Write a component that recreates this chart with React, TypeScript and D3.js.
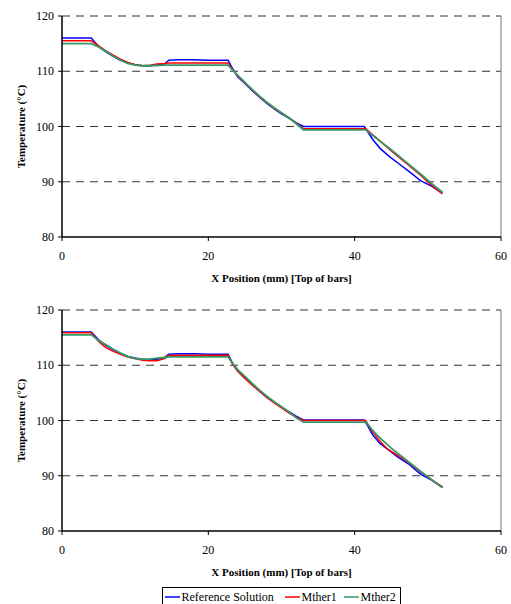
import React from "react";
import * as d3 from "d3";

type P = [number, number];

const xTicks = [0, 20, 40, 60];
const yTicks = [80, 90, 100, 110, 120];
const seriesNames = ["Reference Solution", "Mther1", "Mther2"];
const seriesColors = ["#0000FF", "#FF0000", "#339966"];

const topRef: P[] = [[0,116],[4,116],[5,114.5],[6,113.5],[7,112.7],[8,112],[9,111.5],[10,111.2],[11,111],[12,111],[13,111.2],[14,111.3],[14.6,112],[16,112.1],[18,112.1],[20,112],[22.7,112],[23.3,110.5],[24,109],[25,107.8],[26,106.5],[27,105.3],[28,104.2],[29,103.2],[30,102.3],[31,101.5],[32,100.7],[33,100],[35,100],[38,100],[41.3,100],[41.8,99],[42.5,97.6],[43.5,96],[44.8,94.5],[46,93.3],[47.5,91.8],[49,90.2],[50.5,89.2],[52,87.9]];
const topM1: P[] = [[0,115.5],[4,115.5],[5,114.6],[6,113.7],[7,112.9],[8,112.2],[9,111.6],[10,111.2],[11,111],[12,111.1],[13,111.3],[14,111.4],[14.6,111.5],[22.7,111.5],[23.3,110.3],[24,109.2],[25,107.9],[26,106.6],[27,105.4],[28,104.3],[29,103.3],[30,102.4],[31,101.6],[32,100.6],[33,99.6],[41.5,99.6],[43,97.9],[45,95.6],[47,93.4],[49,91.2],[50.5,89.4],[52,87.8]];
const topM2: P[] = [[0,115],[4,115],[5,114.4],[6,113.6],[7,112.7],[8,112],[9,111.4],[10,111.1],[11,111],[12,111],[14,111.1],[22.7,111.1],[23.3,110.2],[24,109.3],[25,108],[26,106.7],[27,105.5],[28,104.4],[29,103.4],[30,102.5],[31,101.6],[32,100.5],[33,99.4],[41.5,99.4],[43,97.8],[45,95.8],[47,93.6],[49,91.4],[50.5,89.7],[52,88.1]];

const botRef: P[] = [[0,116],[4,116],[5,114.6],[6,113.6],[7,112.8],[8,112.1],[9,111.6],[10,111.3],[11,111.1],[12,111],[13,111.1],[14,111.4],[14.6,112],[16,112.1],[18,112.1],[20,112],[22.7,112],[23.3,110.4],[24,109.1],[25,107.8],[26,106.5],[27,105.3],[28,104.2],[29,103.3],[30,102.4],[31,101.6],[32,100.8],[33,100.1],[41.3,100.1],[41.8,99],[42.5,97.3],[43.5,95.8],[44.8,94.5],[46,93.3],[47.5,92],[49,90.3],[50.5,89.2],[52,87.9]];
const botM1: P[] = [[0,115.9],[4,115.9],[5,114.3],[6,113.2],[7,112.5],[8,112],[9,111.5],[10,111.2],[11,110.9],[12,110.8],[13,110.8],[14,111.2],[14.6,111.8],[22.7,111.8],[23.3,110.2],[24,108.9],[25,107.6],[26,106.4],[27,105.3],[28,104.2],[29,103.2],[30,102.3],[31,101.4],[32,100.6],[33,100],[41.5,100],[42.5,97.8],[43.5,96.2],[44.5,94.8],[46,93.6],[47.5,92.3],[49,90.7],[50.5,89.3],[52,88]];
const botM2: P[] = [[0,115.5],[4,115.5],[5,114.5],[6,113.7],[7,112.9],[8,112.2],[9,111.6],[10,111.2],[11,111.1],[12,111.1],[13,111.3],[14,111.4],[14.6,111.5],[22.7,111.5],[23.3,110.4],[24,109.2],[25,108],[26,106.7],[27,105.5],[28,104.4],[29,103.4],[30,102.5],[31,101.6],[32,100.5],[33,99.7],[41.5,99.7],[43,97.4],[45,95],[47,92.9],[49,90.8],[50.5,89.3],[52,87.8]];

const FONT = "Liberation Serif, DejaVu Serif, serif";
const LEFT = 62;
const RIGHT = 501;
const PH = 221;

function Panel({ top, series }: { top: number; series: P[][] }) {
  const x = d3.scaleLinear().domain([0, 60]).range([LEFT, RIGHT]);
  const y = d3.scaleLinear().domain([80, 120]).range([top + PH, top]);
  const line = d3.line<P>().x((d) => x(d[0])).y((d) => y(d[1]));
  const bottom = top + PH;
  return (
    <g>
      {yTicks.filter((t) => t > 80).map((t) => (
        <line key={"g" + t} x1={LEFT} x2={RIGHT} y1={y(t)} y2={y(t)} stroke="#333" strokeWidth={1} strokeDasharray="8,6" />
      ))}
      <line x1={RIGHT} x2={RIGHT} y1={top} y2={bottom} stroke="#777" strokeWidth={1} />
      {series.map((s, i) => (
        <path key={i} d={line(s) || ""} fill="none" stroke={seriesColors[i]} strokeWidth={i === 2 ? 1.8 : 1.5} />
      ))}
      <line x1={LEFT} x2={LEFT} y1={top} y2={bottom} stroke="#000" strokeWidth={1.5} />
      <line x1={LEFT} x2={RIGHT} y1={bottom} y2={bottom} stroke="#000" strokeWidth={1.5} />
      {yTicks.map((t) => (
        <g key={"y" + t}>
          <line x1={LEFT - 4} x2={LEFT} y1={y(t)} y2={y(t)} stroke="#000" strokeWidth={1} />
          <text x={LEFT - 8} y={y(t) + 4} textAnchor="end" fontSize={12} style={{ fontFamily: FONT }}>{t}</text>
        </g>
      ))}
      {xTicks.map((t) => (
        <g key={"x" + t}>
          <line x1={x(t)} x2={x(t)} y1={bottom} y2={bottom + 4} stroke="#000" strokeWidth={1} />
          <text x={x(t)} y={bottom + 23} textAnchor="middle" fontSize={12} style={{ fontFamily: FONT }}>{t}</text>
        </g>
      ))}
      <text x={(LEFT + RIGHT) / 2} y={bottom + 45} textAnchor="middle" fontSize={11} fontWeight="bold" style={{ fontFamily: FONT }}>X Position (mm) [Top of bars]</text>
      <text transform={`translate(25,${(top + bottom) / 2}) rotate(-90)`} textAnchor="middle" fontSize={11} fontWeight="bold" style={{ fontFamily: FONT }}>Temperature (°C)</text>
    </g>
  );
}

export default function App() {
  const legendX = [165, 285, 344];
  return (
    <svg width={511} height={604} style={{ position: "absolute", left: 0, top: 0, background: "#fff" }}>
      <Panel top={16} series={[topRef, topM1, topM2]} />
      <Panel top={310} series={[botRef, botM1, botM2]} />
      <rect x={162.5} y={587.5} width={238} height={24} fill="#fff" stroke="#000" strokeWidth={1} />
      {seriesNames.map((n, i) => (
        <g key={n}>
          <line x1={legendX[i]} x2={legendX[i] + 15} y1={597} y2={597} stroke={seriesColors[i]} strokeWidth={1.5} />
          <text x={legendX[i] + 16.5} y={601} fontSize={12} style={{ fontFamily: FONT }}>{n}</text>
        </g>
      ))}
    </svg>
  );
}
